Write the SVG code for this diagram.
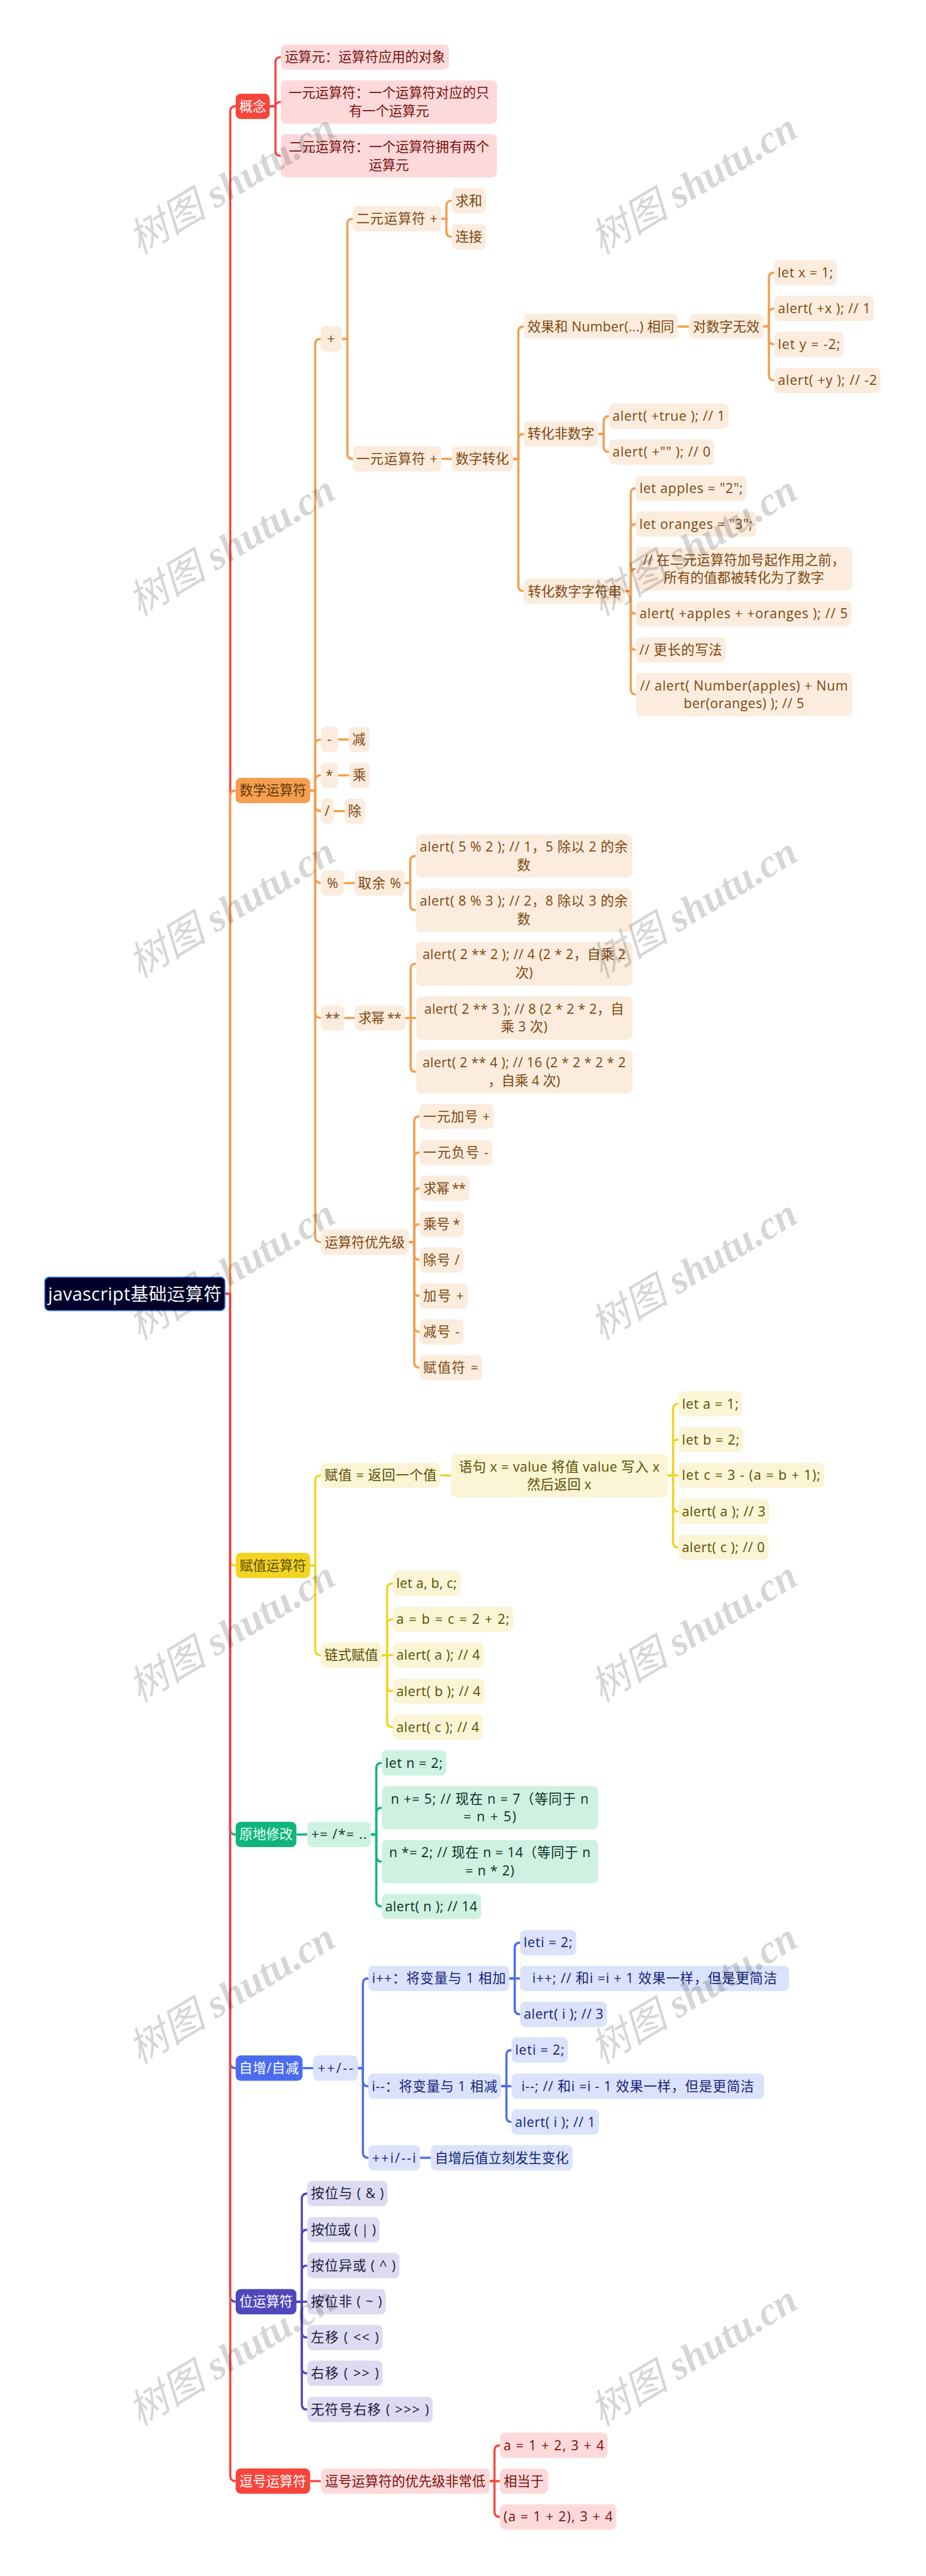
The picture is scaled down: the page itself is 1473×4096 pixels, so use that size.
<svg xmlns="http://www.w3.org/2000/svg" width="1473" height="4096" viewBox="0 0 1473 4096">
<style>
text{font-family:"Open Sans","Noto Sans CJK SC",sans-serif;font-size:37px;text-anchor:middle}
.n rect{rx:14px;ry:14px}
#conn path{fill:none;stroke-width:6;stroke-linecap:butt}
.cr{stroke:#f5473d}.co{stroke:#f49d4d}.cy{stroke:#f2d423}.cg{stroke:#0fb57d}.cb{stroke:#4a6cee}.cp{stroke:#4f48bd}
.R rect{fill:#f8453b}.R text{fill:#fff}
.r rect{fill:#fdd9d9}.r text{fill:#771010}
.O rect{fill:#f59f4f}.O text{fill:#5f3608}
.o rect{fill:#fbecdd}.o text{fill:#7d4710}
.Y rect{fill:#f2d423}.Y text{fill:#5a4d00}
.y rect{fill:#fbf5d5}.y text{fill:#5a4d00}
.G rect{fill:#0fb57d}.G text{fill:#eafff7}
.g rect{fill:#cef2e2}.g text{fill:#0d2b22}
.B rect{fill:#4a6cee}.B text{fill:#fff}
.b rect{fill:#dbe2fb}.b text{fill:#13237c}
.P rect{fill:#4f48bd}.P text{fill:#fff}
.p rect{fill:#dddbf2}.p text{fill:#1a1a3c}
#root rect{fill:#00002a;stroke:#2d6fd2;stroke-width:3;rx:12px;ry:12px}
#root text{fill:#fff;font-size:50px}
#wm text{font-family:"Liberation Serif","Noto Sans CJK SC",serif;font-style:italic;font-size:110px;fill:#000;fill-opacity:.16;text-anchor:start}
#wm tspan{font-weight:bold}
</style>
<g transform="scale(.575)">
<g id="conn">
<path class="cr" d="M622 3578H637V308Q637 294 652 294"/>
<path class="co" d="M622 3578H637V2200Q637 2186 652 2186"/>
<path class="cy" d="M622 3578H637V4315Q637 4329 652 4329"/>
<path class="cg" d="M622 3578H637V5059Q637 5073 652 5073"/>
<path class="cb" d="M622 3578H637V5705Q637 5719 652 5719"/>
<path class="cp" d="M622 3578H637V6351Q637 6365 652 6365"/>
<path class="cr" d="M622 3578H637V6847Q637 6861 652 6861"/>
<path class="cr" d="M746 294H762V172Q762 158 777 158"/>
<path class="cr" d="M746 294H762Q762 282 777 282"/>
<path class="cr" d="M746 294H762V417Q762 431 777 431"/>
<path class="co" d="M858 2186H872V951Q872 937 888 937"/>
<path class="co" d="M858 2186H872V2059Q872 2045 888 2045"/>
<path class="co" d="M858 2186H872V2158Q872 2144 888 2144"/>
<path class="co" d="M858 2186H872V2229Q872 2243 888 2243"/>
<path class="co" d="M858 2186H872V2428Q872 2442 888 2442"/>
<path class="co" d="M858 2186H872V2801Q872 2815 888 2815"/>
<path class="co" d="M858 2186H872V3421Q872 3435 888 3435"/>
<path class="co" d="M946 937H961V619Q961 605 976 605"/>
<path class="co" d="M946 937H961V1255Q961 1269 976 1269"/>
<path class="co" d="M1221 605H1235V569Q1235 555 1250 555"/>
<path class="co" d="M1221 605H1235V641Q1235 655 1250 655"/>
<path class="co" d="M1221 1269H1250"/>
<path class="co" d="M1419 1269H1434V917Q1434 903 1449 903"/>
<path class="co" d="M1419 1269H1434V1214Q1434 1200 1449 1200"/>
<path class="co" d="M1419 1269H1434V1621Q1434 1635 1449 1635"/>
<path class="co" d="M1875 903H1906"/>
<path class="co" d="M2112 903H2127V768Q2127 754 2142 754"/>
<path class="co" d="M2112 903H2127V867Q2127 853 2142 853"/>
<path class="co" d="M2112 903H2127V938Q2127 952 2142 952"/>
<path class="co" d="M2112 903H2127V1038Q2127 1052 2142 1052"/>
<path class="co" d="M1655 1200H1670V1165Q1670 1151 1685 1151"/>
<path class="co" d="M1655 1200H1670V1236Q1670 1250 1685 1250"/>
<path class="co" d="M1730 1635H1745V1364Q1745 1350 1759 1350"/>
<path class="co" d="M1730 1635H1745V1463Q1745 1449 1759 1449"/>
<path class="co" d="M1730 1635H1745V1587Q1745 1573 1759 1573"/>
<path class="co" d="M1730 1635H1745V1683Q1745 1697 1759 1697"/>
<path class="co" d="M1730 1635H1745V1783Q1745 1797 1759 1797"/>
<path class="co" d="M1730 1635H1745V1906Q1745 1920 1759 1920"/>
<path class="co" d="M935 2045H965"/>
<path class="co" d="M935 2144H966"/>
<path class="co" d="M923 2243H953"/>
<path class="co" d="M952 2442H981"/>
<path class="co" d="M1120 2442H1135V2381Q1135 2367 1150 2367"/>
<path class="co" d="M1120 2442H1135V2503Q1135 2517 1150 2517"/>
<path class="co" d="M953 2815H982"/>
<path class="co" d="M1121 2815H1136V2679Q1136 2665 1151 2665"/>
<path class="co" d="M1121 2815H1151"/>
<path class="co" d="M1121 2815H1136V2950Q1136 2964 1151 2964"/>
<path class="co" d="M1131 3435H1146V3101Q1146 3087 1161 3087"/>
<path class="co" d="M1131 3435H1146V3201Q1146 3187 1161 3187"/>
<path class="co" d="M1131 3435H1146V3300Q1146 3286 1161 3286"/>
<path class="co" d="M1131 3435H1146V3399Q1146 3385 1161 3385"/>
<path class="co" d="M1131 3435H1146V3470Q1146 3484 1161 3484"/>
<path class="co" d="M1131 3435H1146V3570Q1146 3584 1161 3584"/>
<path class="co" d="M1131 3435H1146V3669Q1146 3683 1161 3683"/>
<path class="co" d="M1131 3435H1146V3768Q1146 3782 1161 3782"/>
<path class="cy" d="M858 4329H872V4094Q872 4080 888 4080"/>
<path class="cy" d="M858 4329H872V4563Q872 4577 888 4577"/>
<path class="cy" d="M1218 4080H1248"/>
<path class="cy" d="M1847 4080H1862V3896Q1862 3882 1877 3882"/>
<path class="cy" d="M1847 4080H1862V3995Q1862 3981 1877 3981"/>
<path class="cy" d="M1847 4080H1877"/>
<path class="cy" d="M1847 4080H1862V4166Q1862 4180 1877 4180"/>
<path class="cy" d="M1847 4080H1862V4265Q1862 4279 1877 4279"/>
<path class="cy" d="M1056 4577H1071V4393Q1071 4379 1087 4379"/>
<path class="cy" d="M1056 4577H1071V4492Q1071 4478 1087 4478"/>
<path class="cy" d="M1056 4577H1087"/>
<path class="cy" d="M1056 4577H1071V4663Q1071 4677 1087 4677"/>
<path class="cy" d="M1056 4577H1071V4762Q1071 4776 1087 4776"/>
<path class="cg" d="M820 5073H850"/>
<path class="cg" d="M1026 5073H1041V4889Q1041 4875 1056 4875"/>
<path class="cg" d="M1026 5073H1041V5013Q1041 4999 1056 4999"/>
<path class="cg" d="M1026 5073H1041V5134Q1041 5148 1056 5148"/>
<path class="cg" d="M1026 5073H1041V5258Q1041 5272 1056 5272"/>
<path class="cb" d="M837 5719H866"/>
<path class="cb" d="M990 5719H1004V5485Q1004 5471 1019 5471"/>
<path class="cb" d="M990 5719H1004V5755Q1004 5769 1019 5769"/>
<path class="cb" d="M990 5719H1004V5953Q1004 5967 1019 5967"/>
<path class="cb" d="M1409 5471H1424V5386Q1424 5372 1439 5372"/>
<path class="cb" d="M1409 5471H1439"/>
<path class="cb" d="M1409 5471H1424V5556Q1424 5570 1439 5570"/>
<path class="cb" d="M1386 5769H1401V5683Q1401 5669 1415 5669"/>
<path class="cb" d="M1386 5769H1415"/>
<path class="cb" d="M1386 5769H1401V5854Q1401 5868 1415 5868"/>
<path class="cb" d="M1162 5967H1192"/>
<path class="cp" d="M820 6365H835V6080Q835 6066 850 6066"/>
<path class="cp" d="M820 6365H835V6180Q835 6166 850 6166"/>
<path class="cp" d="M820 6365H835V6279Q835 6265 850 6265"/>
<path class="cp" d="M820 6365H850"/>
<path class="cp" d="M820 6365H835V6450Q835 6464 850 6464"/>
<path class="cp" d="M820 6365H835V6549Q835 6563 850 6563"/>
<path class="cp" d="M820 6365H835V6649Q835 6663 850 6663"/>
<path class="cr" d="M858 6861H888"/>
<path class="cr" d="M1355 6861H1368V6776Q1368 6762 1383 6762"/>
<path class="cr" d="M1355 6861H1383"/>
<path class="cr" d="M1355 6861H1368V6946Q1368 6960 1383 6960"/>
</g>
<g id="root"><rect x="124" y="3532" width="498" height="92"/><text x="373" y="3596" textLength="480">javascript基础运算符</text></g>

<g id="a0" class="n R"><rect x="652" y="259" width="94" height="70"/><text x="699" y="307">概念</text></g>
<g id="a1" class="n r"><rect x="777" y="123" width="465" height="70"/><text x="1010" y="171">运算元：运算符应用的对象</text></g>
<g id="a2" class="n r"><rect x="777" y="222" width="598" height="120"/><text x="1076" y="270">一元运算符：一个运算符对应的只</text><text x="1076" y="320">有一个运算元</text></g>
<g id="a3" class="n r"><rect x="777" y="371" width="598" height="120"/><text x="1076" y="419">二元运算符：一个运算符拥有两个</text><text x="1076" y="469">运算元</text></g>

<g id="b0" class="n O"><rect x="652" y="2151" width="206" height="70"/><text x="755" y="2199">数学运算符</text></g>
<g id="b1" class="n o"><rect x="887" y="902" width="59" height="70"/><text x="916" y="950">+</text></g>
<g id="b2" class="n o"><rect x="976" y="570" width="245" height="70"/><text x="1098" y="618" textLength="225">二元运算符 +</text></g>
<g id="b3" class="n o"><rect x="1250" y="520" width="94" height="70"/><text x="1297" y="568">求和</text></g>
<g id="b4" class="n o"><rect x="1250" y="620" width="94" height="70"/><text x="1297" y="668">连接</text></g>
<g id="b5" class="n o"><rect x="976" y="1234" width="245" height="70"/><text x="1098" y="1282" textLength="225">一元运算符 +</text></g>
<g id="b6" class="n o"><rect x="1250" y="1234" width="169" height="70"/><text x="1334" y="1282">数字转化</text></g>
<g id="b7" class="n o"><rect x="1449" y="868" width="426" height="70"/><text x="1662" y="916" textLength="406">效果和 Number(...) 相同</text></g>
<g id="b8" class="n o"><rect x="1906" y="868" width="206" height="70"/><text x="2009" y="916">对数字无效</text></g>
<g id="b9" class="n o"><rect x="2142" y="719" width="173" height="70"/><text x="2228" y="767" textLength="153">let x = 1;</text></g>
<g id="b10" class="n o"><rect x="2142" y="818" width="276" height="70"/><text x="2280" y="866" textLength="256">alert( +x ); // 1</text></g>
<g id="b11" class="n o"><rect x="2142" y="917" width="192" height="70"/><text x="2238" y="965" textLength="172">let y = -2;</text></g>
<g id="b12" class="n o"><rect x="2142" y="1017" width="294" height="70"/><text x="2289" y="1065" textLength="274">alert( +y ); // -2</text></g>
<g id="b13" class="n o"><rect x="1449" y="1165" width="206" height="70"/><text x="1552" y="1213">转化非数字</text></g>
<g id="b14" class="n o"><rect x="1685" y="1116" width="331" height="70"/><text x="1850" y="1164" textLength="311">alert( +true ); // 1</text></g>
<g id="b15" class="n o"><rect x="1685" y="1215" width="291" height="70"/><text x="1830" y="1263" textLength="271">alert( +"" ); // 0</text></g>
<g id="b16" class="n o"><rect x="1449" y="1600" width="281" height="70"/><text x="1590" y="1648">转化数字字符串</text></g>
<g id="b17" class="n o"><rect x="1759" y="1315" width="306" height="70"/><text x="1912" y="1363" textLength="286">let apples = "2";</text></g>
<g id="b18" class="n o"><rect x="1759" y="1414" width="333" height="70"/><text x="1925" y="1462" textLength="313">let oranges = "3";</text></g>
<g id="b19" class="n o"><rect x="1759" y="1513" width="599" height="120"/><text x="2058" y="1561" textLength="559">// 在二元运算符加号起作用之前，</text><text x="2058" y="1611">所有的值都被转化为了数字</text></g>
<g id="b20" class="n o"><rect x="1759" y="1662" width="596" height="70"/><text x="2057" y="1710" textLength="576">alert( +apples + +oranges ); // 5</text></g>
<g id="b21" class="n o"><rect x="1759" y="1762" width="249" height="70"/><text x="1883" y="1810" textLength="229">// 更长的写法</text></g>
<g id="b22" class="n o"><rect x="1759" y="1861" width="599" height="120"/><text x="2058" y="1909" textLength="575">// alert( Number(apples) + Num</text><text x="2058" y="1959" textLength="333">ber(oranges) ); // 5</text></g>
<g id="b23" class="n o"><rect x="888" y="2010" width="47" height="70"/><text x="911" y="2058">-</text></g>
<g id="b24" class="n o"><rect x="965" y="2010" width="57" height="70"/><text x="993" y="2058">减</text></g>
<g id="b25" class="n o"><rect x="888" y="2109" width="47" height="70"/><text x="911" y="2157">*</text></g>
<g id="b26" class="n o"><rect x="966" y="2109" width="57" height="70"/><text x="994" y="2157">乘</text></g>
<g id="b27" class="n o"><rect x="888" y="2208" width="35" height="70"/><text x="905" y="2256">/</text></g>
<g id="b28" class="n o"><rect x="953" y="2208" width="57" height="70"/><text x="981" y="2256">除</text></g>
<g id="b29" class="n o"><rect x="888" y="2407" width="64" height="70"/><text x="920" y="2455">%</text></g>
<g id="b30" class="n o"><rect x="981" y="2407" width="139" height="70"/><text x="1050" y="2455" textLength="119">取余 %</text></g>
<g id="b31" class="n o"><rect x="1150" y="2307" width="599" height="120"/><text x="1449" y="2355" textLength="575">alert( 5 % 2 ); // 1，5 除以 2 的余</text><text x="1449" y="2405">数</text></g>
<g id="b32" class="n o"><rect x="1150" y="2457" width="599" height="120"/><text x="1449" y="2505" textLength="575">alert( 8 % 3 ); // 2，8 除以 3 的余</text><text x="1449" y="2555">数</text></g>
<g id="b33" class="n o"><rect x="888" y="2780" width="65" height="70"/><text x="920" y="2828">**</text></g>
<g id="b34" class="n o"><rect x="982" y="2780" width="139" height="70"/><text x="1051" y="2828" textLength="119">求幂 **</text></g>
<g id="b35" class="n o"><rect x="1151" y="2605" width="599" height="120"/><text x="1450" y="2653" textLength="562">alert( 2 ** 2 ); // 4 (2 * 2，自乘 2</text><text x="1450" y="2703">次)</text></g>
<g id="b36" class="n o"><rect x="1151" y="2755" width="599" height="120"/><text x="1450" y="2803" textLength="552">alert( 2 ** 3 ); // 8 (2 * 2 * 2，自</text><text x="1450" y="2853" textLength="129">乘 3 次)</text></g>
<g id="b37" class="n o"><rect x="1151" y="2904" width="599" height="120"/><text x="1450" y="2952" textLength="562">alert( 2 ** 4 ); // 16 (2 * 2 * 2 * 2</text><text x="1450" y="3002">，自乘 4 次)</text></g>
<g id="b38" class="n o"><rect x="888" y="3400" width="243" height="70"/><text x="1009" y="3448">运算符优先级</text></g>
<g id="b39" class="n o"><rect x="1161" y="3052" width="205" height="70"/><text x="1263" y="3100" textLength="185">一元加号 +</text></g>
<g id="b40" class="n o"><rect x="1161" y="3152" width="201" height="70"/><text x="1261" y="3200" textLength="181">一元负号 -</text></g>
<g id="b41" class="n o"><rect x="1161" y="3251" width="138" height="70"/><text x="1230" y="3299" textLength="118">求幂 **</text></g>
<g id="b42" class="n o"><rect x="1161" y="3350" width="122" height="70"/><text x="1222" y="3398" textLength="102">乘号 *</text></g>
<g id="b43" class="n o"><rect x="1161" y="3449" width="121" height="70"/><text x="1221" y="3497" textLength="101">除号 /</text></g>
<g id="b44" class="n o"><rect x="1161" y="3549" width="133" height="70"/><text x="1227" y="3597" textLength="113">加号 +</text></g>
<g id="b45" class="n o"><rect x="1161" y="3648" width="121" height="70"/><text x="1221" y="3696" textLength="101">减号 -</text></g>
<g id="b46" class="n o"><rect x="1161" y="3747" width="173" height="70"/><text x="1247" y="3795" textLength="153">赋值符 =</text></g>

<g id="c0" class="n Y"><rect x="652" y="4294" width="206" height="70"/><text x="755" y="4342">赋值运算符</text></g>
<g id="c1" class="n y"><rect x="888" y="4045" width="330" height="70"/><text x="1053" y="4093" textLength="310">赋值 = 返回一个值</text></g>
<g id="c2" class="n y"><rect x="1248" y="4021" width="599" height="120"/><text x="1547" y="4069" textLength="555">语句 x = value 将值 value 写入 x</text><text x="1547" y="4119" textLength="178">然后返回 x</text></g>
<g id="c3" class="n y"><rect x="1877" y="3847" width="176" height="70"/><text x="1965" y="3895" textLength="156">let a = 1;</text></g>
<g id="c4" class="n y"><rect x="1877" y="3946" width="179" height="70"/><text x="1966" y="3994" textLength="159">let b = 2;</text></g>
<g id="c5" class="n y"><rect x="1877" y="4045" width="403" height="70"/><text x="2078" y="4093" textLength="383">let c = 3 - (a = b + 1);</text></g>
<g id="c6" class="n y"><rect x="1877" y="4145" width="251" height="70"/><text x="2002" y="4193" textLength="231">alert( a ); // 3</text></g>
<g id="c7" class="n y"><rect x="1877" y="4244" width="249" height="70"/><text x="2001" y="4292" textLength="229">alert( c ); // 0</text></g>
<g id="c8" class="n y"><rect x="888" y="4542" width="168" height="70"/><text x="972" y="4590">链式赋值</text></g>
<g id="c9" class="n y"><rect x="1087" y="4344" width="187" height="70"/><text x="1180" y="4392" textLength="167">let a, b, c;</text></g>
<g id="c10" class="n y"><rect x="1087" y="4443" width="333" height="70"/><text x="1253" y="4491" textLength="313">a = b = c = 2 + 2;</text></g>
<g id="c11" class="n y"><rect x="1087" y="4542" width="251" height="70"/><text x="1212" y="4590" textLength="231">alert( a ); // 4</text></g>
<g id="c12" class="n y"><rect x="1087" y="4642" width="253" height="70"/><text x="1213" y="4690" textLength="233">alert( b ); // 4</text></g>
<g id="c13" class="n y"><rect x="1087" y="4741" width="249" height="70"/><text x="1211" y="4789" textLength="229">alert( c ); // 4</text></g>

<g id="d0" class="n G"><rect x="652" y="5038" width="168" height="70"/><text x="736" y="5086">原地修改</text></g>
<g id="d1" class="n g"><rect x="850" y="5038" width="176" height="70"/><text x="938" y="5086" textLength="153">+= /*= ..</text></g>
<g id="d2" class="n g"><rect x="1056" y="4840" width="179" height="70"/><text x="1145" y="4888" textLength="159">let n = 2;</text></g>
<g id="d3" class="n g"><rect x="1056" y="4939" width="599" height="120"/><text x="1355" y="4987" textLength="547">n += 5; // 现在 n = 7（等同于 n</text><text x="1355" y="5037" textLength="146">= n + 5)</text></g>
<g id="d4" class="n g"><rect x="1056" y="5088" width="599" height="120"/><text x="1355" y="5136" textLength="557">n *= 2; // 现在 n = 14（等同于 n</text><text x="1355" y="5186" textLength="135">= n * 2)</text></g>
<g id="d5" class="n g"><rect x="1056" y="5237" width="275" height="70"/><text x="1193" y="5285" textLength="255">alert( n ); // 14</text></g>

<g id="e0" class="n B"><rect x="652" y="5684" width="185" height="70"/><text x="744" y="5732" textLength="165">自增/自减</text></g>
<g id="e1" class="n b"><rect x="866" y="5684" width="124" height="70"/><text x="928" y="5732" textLength="98">++/--</text></g>
<g id="e2" class="n b"><rect x="1019" y="5436" width="390" height="70"/><text x="1214" y="5484" textLength="370">i++：将变量与 1 相加</text></g>
<g id="e3" class="n b"><rect x="1439" y="5337" width="155" height="70"/><text x="1516" y="5385" textLength="135">leti = 2;</text></g>
<g id="e4" class="n b"><rect x="1439" y="5436" width="744" height="70"/><text x="1811" y="5484" textLength="677">i++; // 和i =i + 1 效果一样，但是更简洁</text></g>
<g id="e5" class="n b"><rect x="1439" y="5535" width="240" height="70"/><text x="1559" y="5583" textLength="220">alert( i ); // 3</text></g>
<g id="e6" class="n b"><rect x="1019" y="5734" width="367" height="70"/><text x="1202" y="5782" textLength="347">i--：将变量与 1 相减</text></g>
<g id="e7" class="n b"><rect x="1415" y="5634" width="156" height="70"/><text x="1493" y="5682" textLength="136">leti = 2;</text></g>
<g id="e8" class="n b"><rect x="1415" y="5734" width="699" height="70"/><text x="1764" y="5782" textLength="643">i--; // 和i =i - 1 效果一样，但是更简洁</text></g>
<g id="e9" class="n b"><rect x="1415" y="5833" width="242" height="70"/><text x="1536" y="5881" textLength="222">alert( i ); // 1</text></g>
<g id="e10" class="n b"><rect x="1019" y="5932" width="143" height="70"/><text x="1090" y="5980" textLength="121">++i/--i</text></g>
<g id="e11" class="n b"><rect x="1192" y="5932" width="392" height="70"/><text x="1388" y="5980">自增后值立刻发生变化</text></g>

<g id="f0" class="n P"><rect x="652" y="6330" width="168" height="70"/><text x="736" y="6378">位运算符</text></g>
<g id="f1" class="n p"><rect x="850" y="6031" width="222" height="70"/><text x="961" y="6079" textLength="202">按位与 ( &amp; )</text></g>
<g id="f2" class="n p"><rect x="850" y="6131" width="200" height="70"/><text x="950" y="6179" textLength="180">按位或 ( | )</text></g>
<g id="f3" class="n p"><rect x="850" y="6230" width="255" height="70"/><text x="977" y="6278" textLength="235">按位异或 ( ^ )</text></g>
<g id="f4" class="n p"><rect x="850" y="6330" width="217" height="70"/><text x="958" y="6378" textLength="197">按位非 ( ~ )</text></g>
<g id="f5" class="n p"><rect x="850" y="6429" width="208" height="70"/><text x="954" y="6477" textLength="188">左移 ( &lt;&lt; )</text></g>
<g id="f6" class="n p"><rect x="850" y="6528" width="208" height="70"/><text x="954" y="6576" textLength="188">右移 ( &gt;&gt; )</text></g>
<g id="f7" class="n p"><rect x="850" y="6628" width="347" height="70"/><text x="1023" y="6676" textLength="327">无符号右移 ( &gt;&gt;&gt; )</text></g>

<g id="h0" class="n R"><rect x="652" y="6826" width="206" height="70"/><text x="755" y="6874">逗号运算符</text></g>
<g id="h1" class="n r"><rect x="888" y="6826" width="467" height="70"/><text x="1121" y="6874">逗号运算符的优先级非常低</text></g>
<g id="h2" class="n r"><rect x="1383" y="6727" width="298" height="70"/><text x="1532" y="6775" textLength="278">a = 1 + 2, 3 + 4</text></g>
<g id="h3" class="n r"><rect x="1383" y="6826" width="133" height="70"/><text x="1449" y="6874">相当于</text></g>
<g id="h4" class="n r"><rect x="1383" y="6925" width="322" height="70"/><text x="1544" y="6973" textLength="302">(a = 1 + 2), 3 + 4</text></g>

<g id="wm">
<text transform="translate(385 705) rotate(-31)">树图 <tspan>shutu.cn</tspan></text>
<text transform="translate(1663 705) rotate(-31)">树图 <tspan>shutu.cn</tspan></text>
<text transform="translate(385 1706) rotate(-31)">树图 <tspan>shutu.cn</tspan></text>
<text transform="translate(1663 1706) rotate(-31)">树图 <tspan>shutu.cn</tspan></text>
<text transform="translate(385 2707) rotate(-31)">树图 <tspan>shutu.cn</tspan></text>
<text transform="translate(1663 2707) rotate(-31)">树图 <tspan>shutu.cn</tspan></text>
<text transform="translate(385 3708) rotate(-31)">树图 <tspan>shutu.cn</tspan></text>
<text transform="translate(1663 3708) rotate(-31)">树图 <tspan>shutu.cn</tspan></text>
<text transform="translate(385 4709) rotate(-31)">树图 <tspan>shutu.cn</tspan></text>
<text transform="translate(1663 4709) rotate(-31)">树图 <tspan>shutu.cn</tspan></text>
<text transform="translate(385 5710) rotate(-31)">树图 <tspan>shutu.cn</tspan></text>
<text transform="translate(1663 5710) rotate(-31)">树图 <tspan>shutu.cn</tspan></text>
<text transform="translate(385 6711) rotate(-31)">树图 <tspan>shutu.cn</tspan></text>
<text transform="translate(1663 6711) rotate(-31)">树图 <tspan>shutu.cn</tspan></text>
</g>
</g>
</svg>
